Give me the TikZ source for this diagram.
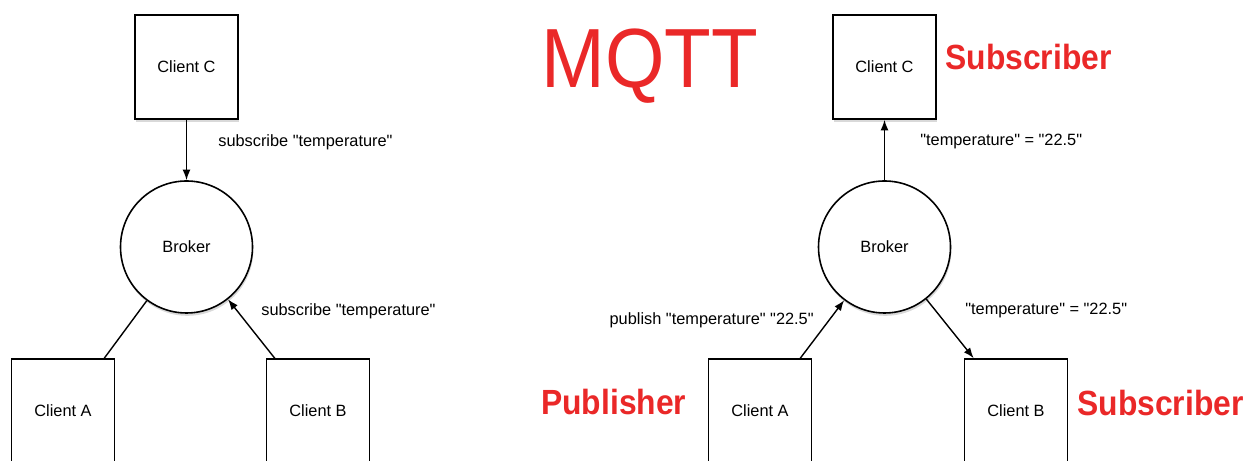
\documentclass[tikz,border=0pt]{standalone}
\usepackage{fontspec}
\setmainfont{Liberation Sans}[Ligatures=TeXOff]
\usepackage{xcolor}
\usetikzlibrary{arrows.meta,shadows}
\definecolor{mqttred}{RGB}{234,40,40}

\begin{document}
\begin{tikzpicture}[
    client/.style={draw, line width=0.9pt, fill=white, inner sep=0pt,
      minimum width=2.06cm, minimum height=2.08cm,
      drop shadow={opacity=0.3, shadow xshift=0.5pt, shadow yshift=-1.6pt},
      font=\fontsize{9.3}{11}\selectfont},
    broker/.style={circle, draw, line width=0.9pt, fill=white, inner sep=0pt,
      minimum size=2.64cm,
      drop shadow={opacity=0.3, shadow xshift=0.5pt, shadow yshift=-1.6pt},
      font=\fontsize{9.3}{11}\selectfont},
    lbl/.style={inner sep=0pt, font=\fontsize{9.3}{11}\selectfont},
    tag/.style={inner sep=0pt, text=mqttred, xscale=0.91,
      font=\bfseries\fontsize{19.9}{22}\selectfont},
    msg/.style={-{Latex[length=6pt,width=4.5pt]}, line width=0.8pt},
    link/.style={line width=0.8pt}]
  \useasboundingbox (0,0) rectangle (25,9.22);
  \clip (0,0) rectangle (25,9.22);
  % subscribe
  \node[client] (cC) at (3.73,7.88) {Client C};
  \node[broker] (brL) at (3.73,4.28) {Broker};
  \node[client] (cA) at (1.26,1.0) {Client A};
  \node[client] (cB) at (6.36,1.0) {Client B};
  \draw[msg] (cC) -- (brL);
  \draw[link] ([xshift=-0.22cm]cA.north east) -- (brL);
  \draw[msg] ([xshift=0.18cm]cB.north west) -- (brL);
  \node[lbl, anchor=west] (subC) at (4.36,6.38) {subscribe "temperature"};
  \node[lbl, anchor=west] (subB) at (5.22,3.0) {subscribe "temperature"};
  % publish
  \node[anchor=base west, inner sep=0pt, text=mqttred, xscale=0.91,
    font=\fontsize{47.8}{50}\selectfont] (title) at (10.82,7.46) {MQTT};
  \node[client] (cC2) at (17.69,7.88) {Client C};
  \node[broker] (br2) at (17.69,4.28) {Broker};
  \node[client] (cA2) at (15.2,1.0) {Client A};
  \node[client] (cB2) at (20.32,1.0) {Client B};
  \draw[msg] (br2) -- (cC2);
  \draw[msg] ([xshift=-0.24cm]cA2.north east) -- (br2);
  \draw[msg] (br2) -- ([xshift=0.2cm]cB2.north west);
  \node[lbl, anchor=west] (valC) at (18.4,6.38) {"temperature" = "22.5"};
  \node[lbl, anchor=east] (pubA) at (16.28,2.82) {publish "temperature" "22.5"};
  \node[lbl, anchor=west] (valB) at (19.3,3.02) {"temperature" = "22.5"};
  % roles
  \node[tag, anchor=base west] (roleC) at (18.9,7.82) {Subscriber};
  \node[tag, anchor=base west] (roleA) at (10.82,0.92) {Publisher};
  \node[tag, anchor=base west] (roleB) at (21.54,0.9) {Subscriber};
\end{tikzpicture}
\end{document}
